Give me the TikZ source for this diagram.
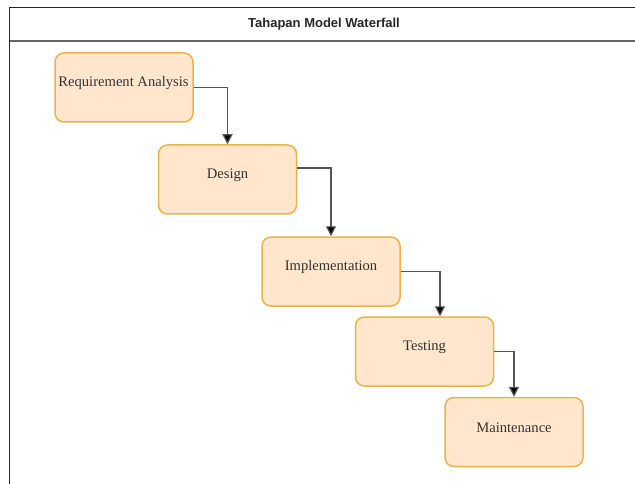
\documentclass[tikz,border=0pt]{standalone}
\usepackage{fontspec}
\setmainfont{Liberation Serif}
\setsansfont{Liberation Sans}
\usetikzlibrary{arrows.meta}
\definecolor{boxfill}{HTML}{FFE6CC}
\definecolor{boxline}{HTML}{E8B44C}
\definecolor{txt}{HTML}{333333}
\definecolor{linegray}{HTML}{555555}
\tikzset{
  stepbox/.style={draw=boxline, fill=boxfill, line width=1.5pt, rounded corners=9pt,
    minimum width=138pt, minimum height=69pt, inner sep=0pt},
  steplabel/.style={font=\fontsize{14.6}{17}\selectfont, text=txt, inner sep=0pt},
  arr/.style={draw=linegray, line width=1.2pt, -{Triangle[length=10pt,width=10pt,fill=black]}},
  frameline/.style={draw=black!85, line width=1.4pt},
  sepline/.style={draw=black!60, line width=2pt},
  titletext/.style={font=\sffamily\bfseries\fontsize{13}{15}\selectfont, text=black!85, inner sep=0pt}
}
\begin{document}
\begin{tikzpicture}[x=1pt,y=-1pt]
\useasboundingbox (0,0) rectangle (635,484);
\draw[frameline] (9.5,484) -- (9.5,7.5) -- (635,7.5);
\draw[sepline] (9.5,41.5) -- (635,41.5);
\node[titletext] (title) at (324,24.5) {Tahapan Model Waterfall};

\node[stepbox] (ra) at (124,87.5) {};
\node[stepbox] (de) at (227.5,179.5) {};
\node[stepbox] (im) at (331,271.5) {};
\node[stepbox] (te) at (424.5,351.5) {};
\node[stepbox] (ma) at (514,432) {};

\node[steplabel] (lra) at (123.5,83) {Requirement Analysis};
\node[steplabel] (lde) at (227.5,175) {Design};
\node[steplabel] (lim) at (331,267) {Implementation};
\node[steplabel] (lte) at (424.5,347) {Testing};
\node[steplabel] (lma) at (514,427.5) {Maintenance};

\draw[arr] (ra.east) -| (de.north);
\draw[arr] ([yshift=11.5pt]de.east) -| (im.north);
\draw[arr] (im.east) -| ([xshift=15.5pt]te.north);
\draw[arr] (te.east) -| (ma.north);
\end{tikzpicture}
\end{document}
